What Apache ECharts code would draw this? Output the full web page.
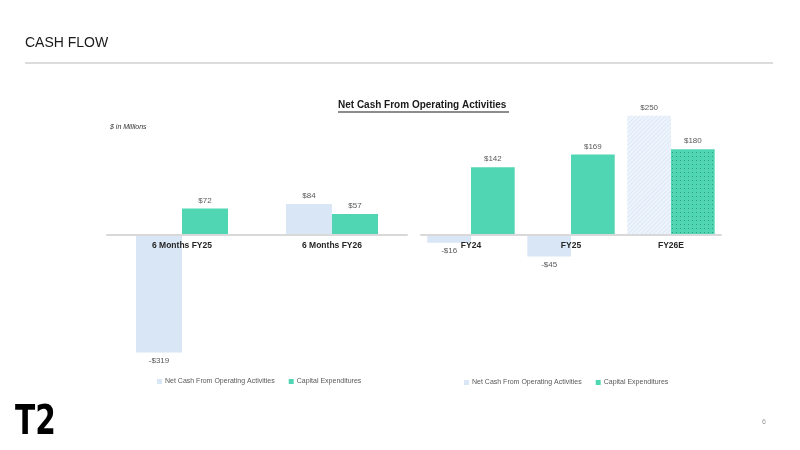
<!DOCTYPE html>
<html>
<head>
<meta charset="utf-8">
<script src="https://cdn.jsdelivr.net/npm/echarts@6/dist/echarts.min.js"></script>
<style>
  html, body { margin: 0; padding: 0; background: #fff; }
  #main { width: 800px; height: 450px; }
</style>
</head>
<body>
<div id="main"></div>
<script>
'use strict';

// half year figures
var cats1 = ['6 Months FY25', '6 Months FY26'];
var opCash1 = [-319, 84];
var capex1 = [72, 57];

// full year figures
var cats2 = ['FY24', 'FY25', 'FY26E'];
var opCash2 = [-16, -45, 250];
var capex2 = [142, 169, 180];

var BLUE = '#d9e6f6';
var GREEN = '#50d6b2';
var FONT = 'Liberation Sans';

function fmt(p) {
    var v = p.value;
    return v < 0 ? '-$' + Math.abs(v) : '$' + v;
}

// negative bars get their label underneath
function toData(arr, lastStyle) {
    return arr.map(function (v, i) {
        var d = {
            value: v,
            label: { position: v < 0 ? 'bottom' : 'top' }
        };
        if (lastStyle && i === arr.length - 1) d.itemStyle = lastStyle;
        return d;
    });
}

var barLabel = {
    show: true,
    formatter: fmt,
    fontSize: 8,
    color: '#595959',
    distance: 4,
    fontFamily: FONT
};

// grid bottom sits on the zero line, negative bars hang below it (clip off)
var xAxisBase = {
    type: 'category',
    axisLine: { lineStyle: { color: '#d9d9d9', width: 2 } },
    axisTick: { show: false },
    axisLabel: { fontSize: 8.5, fontWeight: 'bold', color: '#262626', margin: 6, fontFamily: FONT },
    z: 10
};

var legendBase = {
    icon: 'rect', itemWidth: 5, itemHeight: 5, itemGap: 14,
    textStyle: { fontSize: 7, color: '#595959', fontFamily: FONT, padding: [0, 0, 0, -2] },
    data: ['Net Cash From Operating Activities', 'Capital Expenditures']
};

var myChart = echarts.init(document.getElementById('main'));

var option = {
    animation: false,
    title: [
        {
            text: 'CASH FLOW',
            left: 25, top: 36, padding: 0,
            textStyle: { fontSize: 14, fontWeight: 'normal', color: '#1a1a1a', fontFamily: FONT }
        },
        {
            text: 'Net Cash From Operating Activities',
            left: 338, top: 100, padding: 0,
            textStyle: { fontSize: 10, fontWeight: 'bold', color: '#1a1a1a', fontFamily: FONT }
        },
        {
            text: '$ in Millions',
            left: 110, top: 124, padding: 0,
            textStyle: { fontSize: 7, fontStyle: 'italic', fontWeight: 'normal', color: '#333', fontFamily: FONT }
        }
    ],
    graphic: [
        { type: 'rect', shape: { x: 25, y: 62, width: 748, height: 2 }, style: { fill: '#dcdcdc' } },
        { type: 'rect', shape: { x: 338, y: 111.5, width: 171, height: 1 }, style: { fill: '#1a1a1a' } },
        {
            type: 'text', left: 15, top: 404, scaleX: 0.74,
            style: { text: 'T2', fontSize: 40, fontWeight: 'bold', fill: '#000', fontFamily: 'DejaVu Sans' }
        },
        {
            type: 'text', left: 762, top: 419,
            style: { text: '6', fontSize: 7, fill: '#999', fontFamily: FONT }
        }
    ],
    legend: [
        Object.assign({ left: 152, top: 373 }, legendBase),
        Object.assign({ left: 459, top: 374 }, legendBase)
    ],
    grid: [
        { left: 107, width: 300, top: 87.8, height: 147.2 },
        { left: 421, width: 300, top: 91.9, height: 143.1 }
    ],
    xAxis: [
        Object.assign({ gridIndex: 0, data: cats1 }, xAxisBase),
        Object.assign({ gridIndex: 1, data: cats2 }, xAxisBase)
    ],
    yAxis: [
        { gridIndex: 0, type: 'value', min: 0, max: 400, show: false },
        { gridIndex: 1, type: 'value', min: 0, max: 300, show: false }
    ],
    series: [
        {
            name: 'Net Cash From Operating Activities', type: 'bar',
            xAxisIndex: 0, yAxisIndex: 0, clip: false,
            barWidth: 46, barGap: '0%',
            itemStyle: { color: BLUE },
            label: barLabel,
            data: toData(opCash1)
        },
        {
            name: 'Capital Expenditures', type: 'bar',
            xAxisIndex: 0, yAxisIndex: 0, clip: false,
            barWidth: 46, barGap: '0%',
            itemStyle: { color: GREEN },
            label: barLabel,
            data: toData(capex1)
        },
        {
            name: 'Net Cash From Operating Activities', type: 'bar',
            xAxisIndex: 1, yAxisIndex: 1, clip: false,
            barWidth: 43.7, barGap: '0%',
            itemStyle: { color: BLUE },
            label: barLabel,
            data: toData(opCash2, {
                color: '#eef4fc',
                decal: {
                    symbol: 'rect', color: '#dde8f6',
                    dashArrayX: [1, 0], dashArrayY: [1, 2],
                    rotation: -Math.PI / 4
                }
            })
        },
        {
            name: 'Capital Expenditures', type: 'bar',
            xAxisIndex: 1, yAxisIndex: 1, clip: false,
            barWidth: 43.7, barGap: '0%',
            itemStyle: { color: GREEN },
            label: barLabel,
            data: toData(capex2, {
                color: GREEN,
                decal: {
                    symbol: 'rect', symbolSize: 1, color: 'rgba(20,110,85,0.55)',
                    dashArrayX: [1, 3], dashArrayY: [1, 3]
                }
            })
        }
    ]
};

myChart.setOption(option);
</script>
</body>
</html>
